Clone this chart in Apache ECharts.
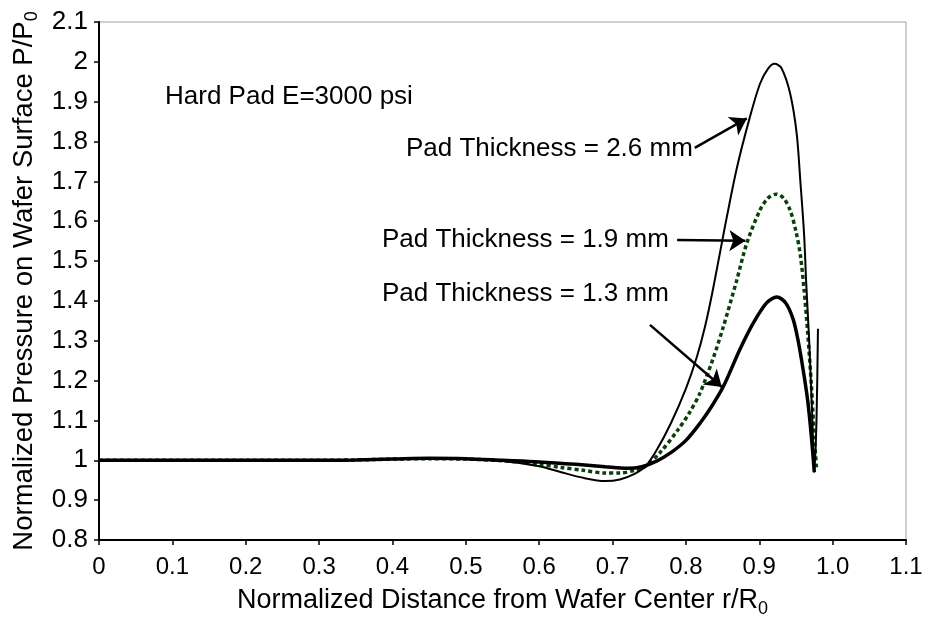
<!DOCTYPE html>
<html>
<head>
<meta charset="utf-8">
<script src="https://cdn.jsdelivr.net/npm/echarts@6/dist/echarts.min.js"></script>
<style>
html,body{margin:0;padding:0;background:#fff;}
#c{width:925px;height:619px;}
</style>
</head>
<body>
<div id="c"></div>
<script>
// ---- data ----
var xTicks = [0, 0.1, 0.2, 0.3, 0.4, 0.5, 0.6, 0.7, 0.8, 0.9, 1.0, 1.1];
var yTicks = [0.8, 0.9, 1, 1.1, 1.2, 1.3, 1.4, 1.5, 1.6, 1.7, 1.8, 1.9, 2, 2.1];

var seriesNames = ['Pad Thickness = 2.6 mm', 'Pad Thickness = 1.9 mm', 'Pad Thickness = 1.3 mm'];

var x26 = [0, 0.1, 0.2, 0.3, 0.35, 0.4, 0.45, 0.5, 0.55, 0.6, 0.63, 0.66, 0.69, 0.71, 0.73, 0.745, 0.76, 0.78, 0.8, 0.815, 0.826, 0.837, 0.852, 0.869, 0.887, 0.901, 0.912, 0.921, 0.93, 0.942, 0.951, 0.956, 0.961, 0.964, 0.968, 0.972, 0.975, 0.978, 0.98];
var y26 = [1, 1, 1, 1, 1.001, 1.003, 1.004, 1.003, 0.998, 0.985, 0.97, 0.956, 0.948, 0.952, 0.966, 0.985, 1.025, 1.095, 1.18, 1.26, 1.335, 1.43, 1.575, 1.73, 1.86, 1.945, 1.983, 1.995, 1.985, 1.921, 1.82, 1.70, 1.57, 1.445, 1.3, 1.12, 0.97, 1.1, 1.33];

var x19 = [0, 0.1, 0.2, 0.3, 0.35, 0.4, 0.45, 0.5, 0.55, 0.6, 0.63, 0.66, 0.69, 0.71, 0.73, 0.745, 0.765, 0.789, 0.805, 0.819, 0.837, 0.851, 0.869, 0.883, 0.901, 0.912, 0.923, 0.933, 0.942, 0.95, 0.956, 0.961, 0.966, 0.971, 0.975, 0.978];
var y19 = [1, 1, 1, 1, 1.001, 1.003, 1.004, 1.003, 0.999, 0.99, 0.982, 0.975, 0.968, 0.968, 0.975, 0.985, 1.02, 1.076, 1.12, 1.168, 1.255, 1.335, 1.45, 1.545, 1.628, 1.658, 1.668, 1.658, 1.628, 1.575, 1.515, 1.43, 1.32, 1.19, 1.06, 0.98];

var x13 = [0, 0.1, 0.2, 0.3, 0.35, 0.4, 0.45, 0.5, 0.55, 0.6, 0.65, 0.69, 0.72, 0.74, 0.76, 0.78, 0.8, 0.82, 0.835, 0.851, 0.874, 0.892, 0.91, 0.924, 0.936, 0.946, 0.953, 0.96, 0.966, 0.971, 0.975];
var y13 = [1, 1, 1, 1, 1.001, 1.003, 1.005, 1.004, 1.0, 0.996, 0.99, 0.984, 0.98, 0.984, 0.998, 1.02, 1.05, 1.095, 1.135, 1.185, 1.28, 1.345, 1.395, 1.41, 1.395, 1.355, 1.3, 1.225, 1.15, 1.06, 0.97];

// annotation arrows: [startX, startY, endX, endY] in data units
var arrow26 = [0.812, 1.784, 0.883, 1.858];
var arrow19 = [0.788, 1.553, 0.881, 1.551];
var arrow13 = [0.751, 1.34, 0.849, 1.184];

function pairs(xs, ys) { return xs.map(function (x, i) { return [x, ys[i]]; }); }
function arrowLine(a) {
  return [{ coord: [a[0], a[1]] }, { coord: [a[2], a[3]] }];
}

var FONT = '"Liberation Sans", Arial, Helvetica, sans-serif';
var chart = echarts.init(document.getElementById('c'), null, { renderer: 'canvas' });

var option = {
  animation: false,
  backgroundColor: '#fff',
  grid: { left: 99, right: 19, top: 22, bottom: 79, show: true, borderColor: '#a0a0a0', borderWidth: 1,
    containLabel: false, outerBoundsMode: 'none' },
  xAxis: {
    type: 'value', min: 0, max: 1.1, interval: 0.1,
    name: 'Normalized Distance from Wafer Center r/R{s|0}',
    nameLocation: 'middle', nameGap: 28,
    nameTextStyle: { fontFamily: FONT, fontSize: 27, color: '#000', lineHeight: 34, verticalAlign: 'top',
      rich: { s: { fontFamily: FONT, fontSize: 18, verticalAlign: 'bottom', lineHeight: 18, color: '#000' } } },
    axisLine: { show: true, lineStyle: { color: '#000', width: 2 } },
    axisTick: { show: true, length: 5, lineStyle: { color: '#000', width: 1.5 } },
    axisLabel: { fontFamily: FONT, fontSize: 24, color: '#000', margin: 15,
      formatter: function (v) { return v === 0 ? '0' : v.toFixed(1); } },
    splitLine: { show: false }
  },
  yAxis: {
    type: 'value', min: 0.8, max: 2.1, interval: 0.1,
    name: 'Normalized Pressure on Wafer Surface P/P{s|0}',
    nameLocation: 'middle', nameRotate: 90, nameGap: 57,
    nameTextStyle: { fontFamily: FONT, fontSize: 27.5, color: '#000', lineHeight: 34,
      rich: { s: { fontFamily: FONT, fontSize: 18, verticalAlign: 'bottom', lineHeight: 18, color: '#000' } } },
    axisLine: { show: true, onZero: false, lineStyle: { color: '#000', width: 2 } },
    axisTick: { show: true, length: 5, lineStyle: { color: '#000', width: 1.5 } },
    axisLabel: { fontFamily: FONT, fontSize: 26, color: '#000', margin: 11,
      formatter: function (v) { return String(+v.toFixed(1)); } },
    splitLine: { show: false }
  },
  graphic: [
    { type: 'text', left: 165, top: 84, style: { text: 'Hard Pad E=3000 psi', font: '26px ' + FONT, fill: '#000' } },
    { type: 'text', left: 406, top: 136, style: { text: seriesNames[0], font: '26px ' + FONT, fill: '#000' } },
    { type: 'text', left: 382, top: 227, style: { text: seriesNames[1], font: '26px ' + FONT, fill: '#000' } },
    { type: 'text', left: 382, top: 281, style: { text: seriesNames[2], font: '26px ' + FONT, fill: '#000' } }
  ],
  series: [
    {
      name: seriesNames[0], type: 'line', data: pairs(x26, y26), showSymbol: false, smooth: 0.3,
      lineStyle: { color: '#000', width: 2 }, z: 3,
      markLine: {
        silent: true, symbol: ['none', 'arrow'], symbolSize: 16, label: { show: false },
        lineStyle: { color: '#000', width: 2.5, type: 'solid' }, emphasis: { disabled: true },
        data: [arrowLine(arrow26), arrowLine(arrow19), arrowLine(arrow13)]
      }
    },
    {
      name: seriesNames[1], type: 'line', data: pairs(x19, y19), showSymbol: false, smooth: 0.3,
      lineStyle: { color: '#0b400b', width: 3.5, type: [4, 3] }, z: 2
    },
    {
      name: seriesNames[2], type: 'line', data: pairs(x13, y13), showSymbol: false, smooth: 0.3,
      lineStyle: { color: '#000', width: 3.5 }, z: 4
    }
  ]
};
chart.setOption(option);
</script>
</body>
</html>
